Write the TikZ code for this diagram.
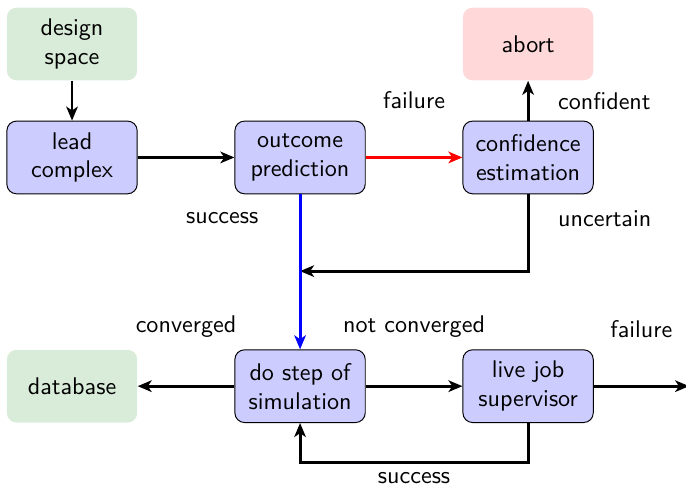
\documentclass[tikz,border=0pt]{standalone}
\usepackage{xcolor}
\usepackage{tikz}
\usetikzlibrary{arrows.meta, positioning}

\begin{document}
\begin{tikzpicture}[
    node distance=1.41cm,
    font=\sffamily,
    box/.style={draw, rounded corners, fill=blue!20, minimum width=1.9cm, minimum height=1.06cm, align=center},
    endbox/.style={box, draw=none},
    arrow/.style={->, very thick, >={Stealth[length=5.8pt, width=4.8pt, inset=1.6pt]}},
    elabel/.style={midway, above=0.57cm}
]
    \useasboundingbox (0,0) rectangle (10,-7.07);

    % prediction stage
    \node[endbox, fill=green!50!black!15] (design) at (1.05,-0.641) {design\\space};
    \node[box, below=0.58cm of design] (lead) {lead\\complex};
    \node[box, right=of lead] (outcome) {outcome\\prediction};
    \node[box, right=of outcome] (confidence) {confidence\\estimation};
    \node[endbox, fill=red!15, above=0.58cm of confidence] (abort) {abort};

    % simulation stage
    \node[endbox, fill=green!50!black!15, below=2.26cm of lead] (database) {database};
    \node[box, right=of database] (dostep) {do step of\\simulation};
    \node[box, right=of dostep] (livejob) {live job\\supervisor};

    \coordinate[below=1.12cm of outcome.south] (merge);
    \coordinate[right=1.39cm of livejob.east] (exit);

    \draw[arrow] (design) -- (lead);
    \draw[arrow] (lead) -- (outcome);
    \draw[arrow, draw=red] (outcome) -- node[elabel] {failure} (confidence);
    \draw[arrow] (confidence) -- node[right=0.3cm] {confident} (abort);
    \draw[arrow] (confidence.south) |- node[pos=0.16, right=0.3cm] {uncertain} (merge);
    \draw[arrow, draw=blue] (outcome) -- node[pos=0.155, left=0.47cm] {success} (dostep);

    \draw[arrow] (dostep) -- node[elabel] {converged} (database);
    \draw[arrow] (dostep) -- node[elabel] {not converged} (livejob);
    \draw[arrow] (livejob) -- node[elabel] {failure} (exit);
    \draw[arrow] (livejob.south) -- ++(0,-0.58) -| node[pos=0.25, below] {success} (dostep.south);
\end{tikzpicture}
\end{document}
